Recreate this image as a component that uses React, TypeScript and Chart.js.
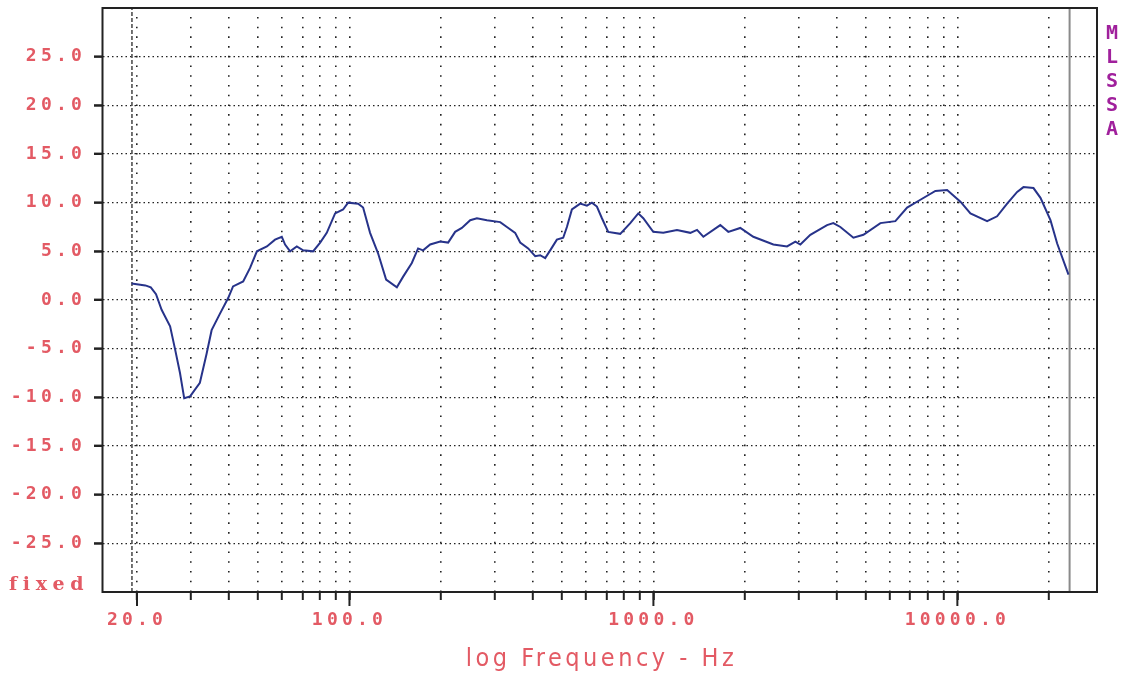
import { useEffect, useRef } from 'react';
import { Chart, registerables } from 'chart.js';

Chart.register(...registerables);

// ---- data ----
const freqHz = [
  19.2, 21.3, 22.2, 23.1, 24.1, 25.7, 26.7, 27.7, 28.6, 29.9,
  32.2, 33.9, 35.2, 37.5, 39.9, 41.4, 44.7, 47.1, 49.6, 53.5,
  56.9, 59.9, 61.4, 63.8, 67.1, 70.4, 75.9, 80.1, 84.2, 89.7,
  95.3, 99.0, 106.8, 110.9, 116.9, 124.2, 132.0, 143.2, 150.2, 160.4,
  168.2, 174.7, 184.3, 198.8, 211.2, 222.7, 234.3, 249.6, 262.6, 283.3,
  313.3, 329.6, 350.9, 364.5, 387.3, 408.4, 424.1, 440.5, 457.5, 481.3,
  504.9, 519.3, 539.3, 574.3, 604.2, 627.6, 651.8, 677.0, 710.1, 777.8,
  839.2, 891.7, 926.1, 998.7, 1077.7, 1195.6, 1322.7, 1391.7, 1459.7, 1659.8,
  1763.7, 1931.5, 2131.6, 2480.8, 2751.6, 2931.2, 3044.2, 3282.8, 3726, 3908,
  4121, 4550, 4908, 5582, 6252, 6834, 7558, 8466, 9254, 10235,
  11040, 12529, 13511, 14579, 15731, 16500, 17800, 18768, 20243, 21300,
  23206,
];
const levelDb = [
  1.7, 1.5, 1.3, 0.6, -1.0, -2.7, -5.1, -7.5, -10.1, -9.9,
  -8.5, -5.5, -3.1, -1.4, 0.2, 1.4, 1.9, 3.3, 5.0, 5.5,
  6.2, 6.5, 5.7, 5.0, 5.5, 5.1, 5.0, 5.9, 6.9, 8.9,
  9.3, 10.0, 9.9, 9.5, 6.9, 4.8, 2.1, 1.3, 2.4, 3.8,
  5.3, 5.1, 5.7, 6.0, 5.9, 7.0, 7.4, 8.2, 8.4, 8.2,
  8.0, 7.5, 6.9, 5.9, 5.3, 4.5, 4.6, 4.3, 5.1, 6.2,
  6.4, 7.5, 9.3, 9.9, 9.7, 10.0, 9.6, 8.4, 7.0, 6.8,
  7.9, 8.9, 8.4, 7.0, 6.9, 7.2, 6.9, 7.2, 6.5, 7.7,
  7.0, 7.4, 6.5, 5.7, 5.5, 6.0, 5.7, 6.7, 7.7, 7.9,
  7.5, 6.4, 6.7, 7.9, 8.1, 9.5, 10.3, 11.2, 11.3, 10.1,
  8.9, 8.1, 8.6, 9.9, 11.1, 11.6, 11.5, 10.5, 8.2, 5.8,
  2.6,
];
const xTickValues = [
  20, 30, 40, 50, 60, 70, 80, 90,
  100, 200, 300, 400, 500, 600, 700, 800, 900,
  1000, 2000, 3000, 4000, 5000, 6000, 7000, 8000, 9000,
  10000, 20000,
];
const xMajorTicks = [20, 100, 1000, 10000];
const yTickValues = [-25, -20, -15, -10, -5, 0, 5, 10, 15, 20, 25];
const xRange = [15.4, 28800];
const yRange = [-30, 30];
const cursorDashedHz = [19.25];
const cursorSolidHz = [23400];
const sideLetters = ['M', 'L', 'S', 'S', 'A'];
const axisTitle = 'log Frequency - Hz';
const cornerLabel = 'fixed';

const RED = '#e35a64';
const PURPLE = '#a0209c';
const INK = '#222222';

function fitSpacing(ctx: any, text: string, width: number) {
  ctx.letterSpacing = '0px';
  const w0 = ctx.measureText(text).width;
  return Math.max(0, (width - w0) / Math.max(1, text.length - 1));
}

function zeroPadding(scale: any) {
  scale.paddingTop = 0;
  scale.paddingBottom = 0;
  scale.paddingLeft = 0;
  scale.paddingRight = 0;
}

export default function App() {
  const ref = useRef<HTMLCanvasElement | null>(null);

  useEffect(() => {
    const canvas = ref.current;
    if (!canvas) return;

    const spacingPlugin = {
      id: 'spacing',
      beforeDraw(chart: any) {
        (chart.ctx as any).letterSpacing = '4.2px';
      },
    };

    const decorPlugin = {
      id: 'decor',
      afterDraw(chart: any) {
        const ctx = chart.ctx as any;
        const a = chart.chartArea;
        const xs = chart.scales.x;
        const ys = chart.scales.y;
        ctx.save();
        ctx.setLineDash([]);
        // plot frame
        ctx.strokeStyle = INK;
        ctx.lineWidth = 2;
        ctx.strokeRect(a.left, a.top, a.right - a.left, a.bottom - a.top);
        // longer marks for decade ticks
        xMajorTicks.forEach((v) => {
          const px = xs.getPixelForValue(v);
          ctx.beginPath();
          ctx.moveTo(px, a.bottom);
          ctx.lineTo(px, a.bottom + 14);
          ctx.stroke();
        });
        // y tick marks
        yTickValues.forEach((v) => {
          const py = ys.getPixelForValue(v);
          ctx.beginPath();
          ctx.moveTo(a.left - 8.5, py);
          ctx.lineTo(a.left, py);
          ctx.stroke();
        });
        // axis title
        ctx.fillStyle = RED;
        ctx.textBaseline = 'alphabetic';
        ctx.font = '25px "Liberation Sans Narrow", "DejaVu Sans Condensed", "DejaVu Sans", sans-serif';
        const targetW = 268;
        ctx.letterSpacing = fitSpacing(ctx, axisTitle, targetW) + 'px';
        ctx.textAlign = 'left';
        const cx = (a.left + a.right) / 2;
        ctx.fillText(axisTitle, cx - targetW / 2, 666);
        // corner label
        ctx.font = 'bold 19px "DejaVu Serif", "Liberation Serif", serif';
        ctx.letterSpacing = fitSpacing(ctx, cornerLabel, 73) + 'px';
        ctx.textAlign = 'left';
        ctx.fillText(cornerLabel, 9, 590);
        // side label
        ctx.letterSpacing = '0px';
        ctx.fillStyle = PURPLE;
        ctx.font = 'bold 20px "DejaVu Sans Mono", monospace';
        ctx.textAlign = 'center';
        sideLetters.forEach((s, i) => {
          ctx.fillText(s, 1112, 39 + i * 24);
        });
        ctx.restore();
      },
    };

    const tickFont = { family: '"DejaVu Sans Mono", monospace', size: 18, weight: 'bold' as const };

    const chart = new Chart(canvas, {
      type: 'line',
      data: {
        datasets: [
          {
            data: freqHz.map((f, i) => ({ x: f, y: levelDb[i] })),
            borderColor: '#27338a',
            borderWidth: 2,
            pointRadius: 0,
            tension: 0,
            fill: false,
          },
          {
            data: [
              { x: cursorDashedHz[0], y: yRange[0] },
              { x: cursorDashedHz[0], y: yRange[1] },
            ],
            borderColor: '#444444',
            borderWidth: 1.5,
            borderDash: [4, 2],
            pointRadius: 0,
            fill: false,
          },
          {
            data: [
              { x: cursorSolidHz[0], y: yRange[0] },
              { x: cursorSolidHz[0], y: yRange[1] },
            ],
            borderColor: '#8a8a8a',
            borderWidth: 2,
            pointRadius: 0,
            fill: false,
          },
        ],
      },
      options: {
        animation: false,
        responsive: false,
        maintainAspectRatio: false,
        layout: { padding: { left: 0, top: 8, right: 26, bottom: 0 } },
        plugins: {
          legend: { display: false },
          tooltip: { enabled: false },
          title: { display: false },
        },
        scales: {
          x: {
            type: 'logarithmic',
            min: xRange[0],
            max: xRange[1],
            afterBuildTicks: (scale: any) => {
              scale.ticks = xTickValues.map((v) => ({ value: v }));
            },
            afterFit: (scale: any) => {
              scale.height = 83;
              zeroPadding(scale);
            },
            ticks: {
              autoSkip: false,
              maxRotation: 0,
              minRotation: 0,
              padding: 10,
              color: RED,
              font: tickFont,
              callback: (v: any) => (xMajorTicks.includes(Number(v)) ? Number(v).toFixed(1) : ''),
            },
            grid: {
              color: INK,
              lineWidth: 1.6,
              drawTicks: true,
              tickLength: 8,
              tickWidth: 2,
              tickColor: INK,
            },
            border: { display: false, dash: [1.6, 8.12], dashOffset: 0.8 },
          },
          y: {
            type: 'linear',
            min: yRange[0],
            max: yRange[1],
            afterBuildTicks: (scale: any) => {
              scale.ticks = yTickValues.map((v) => ({ value: v }));
            },
            afterFit: (scale: any) => {
              scale.width = 102.5;
              zeroPadding(scale);
            },
            ticks: {
              padding: 8,
              color: RED,
              font: tickFont,
              callback: (v: any) => Number(v).toFixed(1),
            },
            grid: {
              color: INK,
              lineWidth: 1.2,
              drawTicks: true,
              tickLength: 8.5,
              tickWidth: 2,
              tickColor: INK,
            },
            border: { display: false, dash: [1.5, 3] },
          },
        },
      },
      plugins: [spacingPlugin, decorPlugin],
    } as any);

    return () => {
      chart.destroy();
    };
  }, []);

  return (
    <div style={{ position: 'absolute', left: 0, top: 0, width: 1123, height: 675, background: '#ffffff' }}>
      <canvas ref={ref} width={1123} height={675} style={{ display: 'block' }} />
    </div>
  );
}
